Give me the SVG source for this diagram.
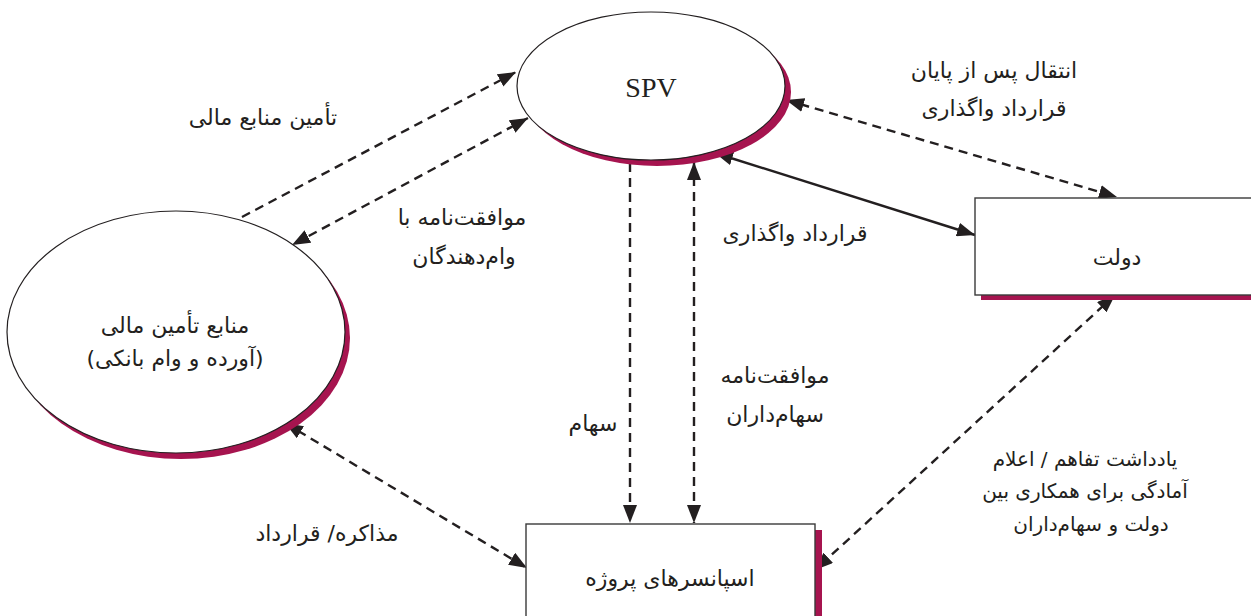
<svg xmlns="http://www.w3.org/2000/svg" width="1251" height="616" viewBox="0 0 1251 616">
<defs>
<style>
.sh{fill:#A6144F;stroke:none}
.nd{fill:#fff;stroke:#231F20;stroke-width:1.2}
.bx{fill:#fff;stroke:#3a3a3a;stroke-width:1.4}
.ln{fill:none;stroke:#231F20;stroke-width:2.4}
.dl{stroke-dasharray:9 6}
.t{font-family:"DejaVu Sans",sans-serif;font-size:22px;fill:#231F20;text-anchor:middle;direction:rtl}
.s{font-size:20px}
.spv{font-family:"Liberation Serif",serif;font-size:28px;fill:#231F20;text-anchor:middle}
</style>
<marker id="ah" viewBox="0 0 18 14" refX="18" refY="7" markerWidth="18" markerHeight="14" markerUnits="userSpaceOnUse" orient="auto-start-reverse">
<path d="M0,0 L18,7 L0,14 Z" fill="#231F20"/>
</marker>
</defs>

<g id="connectors">
<path class="ln dl" d="M242,217 L516,72" marker-end="url(#ah)"/>
<path class="ln dl" d="M528,118 L292,245" marker-start="url(#ah)" marker-end="url(#ah)"/>
<path class="ln dl" d="M786,100 L1117,197" marker-start="url(#ah)" marker-end="url(#ah)"/>
<path class="ln" d="M715,153 L975,235" marker-start="url(#ah)" marker-end="url(#ah)"/>
<path class="ln dl" d="M630,163 L630,523" marker-end="url(#ah)"/>
<path class="ln dl" d="M694,162 L694,523" marker-start="url(#ah)" marker-end="url(#ah)"/>
<path class="ln dl" d="M285,423 L527,568" marker-start="url(#ah)" marker-end="url(#ah)"/>
<path class="ln dl" d="M1115,295 L815,570" marker-start="url(#ah)" marker-end="url(#ah)"/>
</g>

<g id="spv">
<ellipse class="sh" cx="657" cy="92" rx="134" ry="74"/>
<ellipse class="nd" cx="651" cy="86" rx="134" ry="74"/>
<text class="spv" x="651" y="97">SPV</text>
</g>

<g id="finance">
<ellipse class="sh" cx="181" cy="338" rx="169" ry="121"/>
<ellipse class="nd" cx="176" cy="332" rx="169" ry="121"/>
<text class="t" x="175" y="333">منابع تأمین مالی</text>
<text class="t" x="175" y="366">(آورده و وام بانکی)</text>
</g>

<g id="government">
<rect class="sh" x="981" y="204" width="290" height="96"/>
<rect class="bx" x="975" y="198" width="290" height="97"/>
<text class="t" x="1117" y="265">دولت</text>
</g>

<g id="sponsors">
<rect class="sh" x="532" y="530" width="290" height="100"/>
<rect class="bx" x="526" y="524" width="289" height="100"/>
<text class="t" x="670" y="586">اسپانسرهای پروژه</text>
</g>

<g id="labels">
<text class="t" x="263" y="125">تأمین منابع مالی</text>
<text class="t" x="462" y="225">موافقت‌نامه با</text>
<text class="t" x="464" y="264">وام‌دهندگان</text>
<text class="t" x="994" y="78">انتقال پس از پایان</text>
<text class="t" x="994" y="116">قرارداد واگذاری</text>
<text class="t" x="795" y="241">قرارداد واگذاری</text>
<text class="t" x="593" y="431">سهام</text>
<text class="t" x="775" y="383">موافقت‌نامه</text>
<text class="t" x="775" y="422">سهام‌داران</text>
<text class="t" x="327" y="541">مذاکره/ قرارداد</text>
<text class="t s" x="1085" y="466">یادداشت تفاهم / اعلام</text>
<text class="t s" x="1085" y="498">آمادگی برای همکاری بین</text>
<text class="t s" x="1091" y="531">دولت و سهام‌داران</text>
</g>
</svg>
